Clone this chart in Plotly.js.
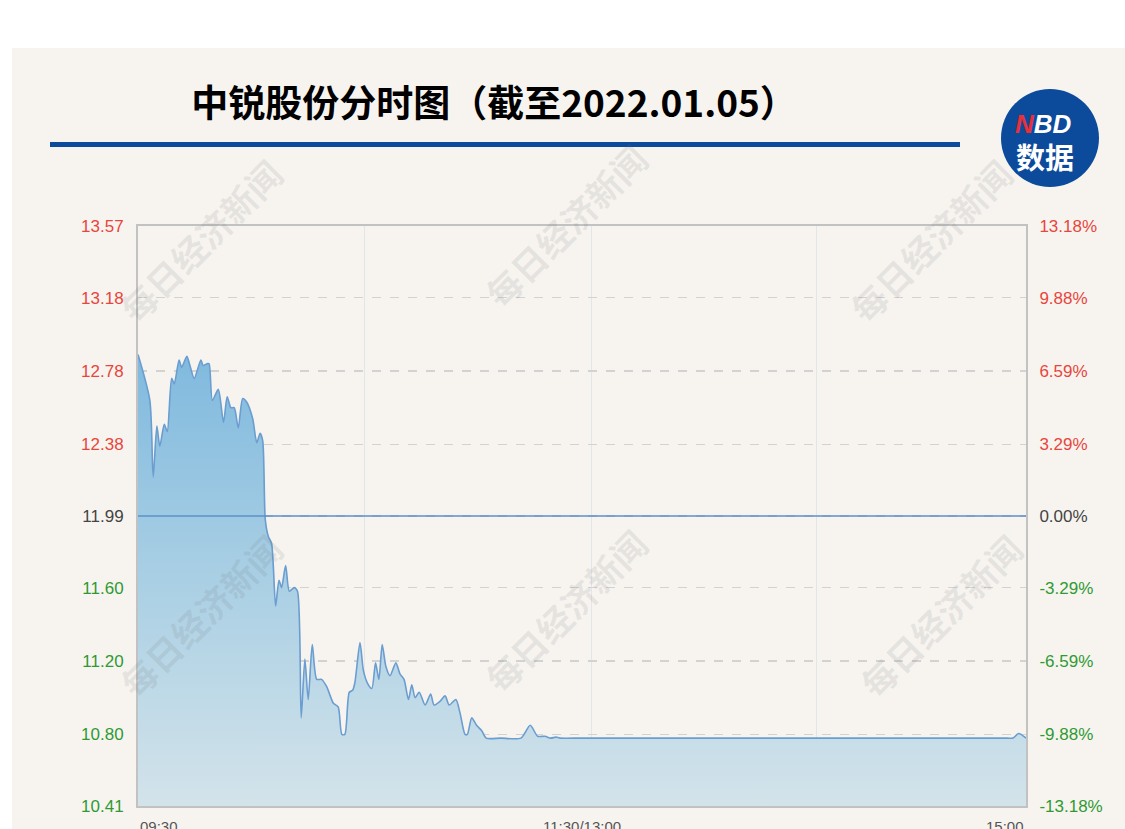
<!DOCTYPE html>
<html>
<head>
<meta charset="utf-8">
<script src="https://cdn.plot.ly/plotly-3.0.1.min.js"></script>
<style>
html,body{margin:0;padding:0;background:#ffffff;}
#panel{position:absolute;left:12px;top:48px;width:1113px;height:781px;background:#f7f4f0;}
#chart{position:absolute;left:0;top:0;width:1125px;height:829px;}
</style>
</head>
<body>
<div id="panel"></div>
<div id="chart"></div>
<script>
// ---- data (minutes after 09:30 on a 240-minute trading day) ----
const minutes = [0, 3.2, 4.1, 5.1, 5.9, 7.1, 7.9, 9.1, 9.8, 11.1, 11.8, 13.2, 13.9, 15.2, 17.0, 17.6, 18.7, 19.2, 20.1, 21.7, 23.1, 24.1, 25.1, 26.0, 27.1, 28.3, 29.4, 31.0, 32.1, 33.0, 33.7, 34.4, 35.2, 36.1, 37.2, 38.1, 38.8, 39.9, 40.9, 42.2, 43.1, 44.1, 45.1, 46.0, 47.1, 48.3, 49.6, 51.0, 52.8, 54.1, 55.1, 55.9, 57.1, 58.0, 58.6, 60.0, 60.9, 62.0, 63.2, 64.2, 65.1, 66.0, 67.0, 68.1, 69.7, 70.8, 71.9, 73.1, 74.0, 74.9, 76.0, 77.6, 79.1, 80.0, 81.6, 83.0, 84.1, 85.9, 87.0, 88.4, 89.0, 90.2, 91.5, 92.9, 94.1, 98.0, 103.5, 106.0, 108.0, 110.0, 111.5, 113.0, 114.0, 120.0, 140.0, 160.0, 180.0, 200.0, 220.0, 232.0, 235.0, 236.5, 238.0, 240.0];
const prices = [12.87, 12.62, 12.20, 12.48, 12.37, 12.49, 12.45, 12.74, 12.71, 12.84, 12.80, 12.86, 12.82, 12.74, 12.84, 12.81, 12.82, 12.82, 12.62, 12.68, 12.50, 12.64, 12.58, 12.58, 12.47, 12.63, 12.61, 12.52, 12.39, 12.44, 12.40, 11.97, 11.88, 11.84, 11.50, 11.64, 11.60, 11.72, 11.58, 11.60, 11.58, 10.89, 11.21, 10.99, 11.29, 11.10, 11.10, 11.06, 10.97, 10.95, 10.80, 10.80, 11.03, 11.04, 11.08, 11.30, 11.15, 11.08, 11.05, 11.19, 11.10, 11.29, 11.17, 11.12, 11.19, 11.13, 11.10, 10.99, 11.07, 11.00, 11.03, 10.96, 11.02, 10.96, 10.98, 11.01, 10.96, 10.99, 10.92, 10.80, 10.80, 10.89, 10.85, 10.82, 10.78, 10.78, 10.78, 10.85, 10.79, 10.79, 10.78, 10.785, 10.78, 10.78, 10.78, 10.78, 10.78, 10.78, 10.78, 10.78, 10.78, 10.78, 10.805, 10.78, 10.78];
const prevClose = 11.99;
const priceTicks = [10.41, 10.80, 11.20, 11.60, 11.99, 12.38, 12.78, 13.18, 13.57];
const priceLabels = ['10.41', '10.80', '11.20', '11.60', '11.99', '12.38', '12.78', '13.18', '13.57'];
const pctLabels = ['-13.18%', '-9.88%', '-6.59%', '-3.29%', '0.00%', '3.29%', '6.59%', '9.88%', '13.18%'];
const timeLabels = ['09:30', '11:30/13:00', '15:00'];
const titleText = '中锐股份分时图（截至2022.01.05）';
const watermark = '每日经济新闻';

// ---- styling helpers ----
const L = 138, R = 1026, T = 226, B = 806;
const px = p => (p - L) / (R - L);
const py = p => (B - p) / (B - T);
const xOfPx = p => (p - L) / (R - L) * 240;   // pixel -> x-axis units (layout only)
const gridX = [0, xOfPx(364.5), xOfPx(591), xOfPx(816), 240];
const RED = '#e8463c', GREEN = '#2f9a33', NEUTRAL = '#444444';
function colorFor(i){ return i < 4 ? GREEN : (i === 4 ? NEUTRAL : RED); }
const leftText = priceLabels.map((t, i) => '<span style="color:' + colorFor(i) + '">' + t + '</span>');
const rightText = pctLabels.map((t, i) => '<span style="color:' + colorFor(i) + '">' + t + '</span>');

const traces = [
  {
    x: minutes, y: prices, type: 'scatter', mode: 'lines',
    line: {color: '#6a9dd0', width: 1.6, shape: 'spline', smoothing: 0.7},
    fill: 'tozeroy',
    fillgradient: {type: 'vertical', start: 10.41, stop: 12.9,
      colorscale: [[0, '#d3e3ea'], [0.5, '#a9cfe4'], [1, '#7fb9de']]},
    hoverinfo: 'skip', showlegend: false
  },
  {
    x: [0], y: [prevClose], yaxis: 'y2', type: 'scatter', mode: 'none',
    hoverinfo: 'skip', showlegend: false
  }
];

const wmPos = [[200, 240], [565, 225], [930, 240], [200, 615], [565, 610], [940, 615]];
const annotations = wmPos.map(p => ({
  xref: 'paper', yref: 'paper', x: px(p[0]), y: py(p[1]), text: watermark,
  showarrow: false, textangle: -45, xanchor: 'center', yanchor: 'middle',
  font: {family: 'Noto Sans CJK SC', size: 35, color: 'rgba(110,110,110,0.13)', weight: 'bold'}
}));
const xLabFont = {family: 'Liberation Sans', size: 15, color: '#555'};
annotations.push(
  {xref: 'x', yref: 'paper', x: gridX[0], y: 0, yshift: -10, text: timeLabels[0], showarrow: false,
   xanchor: 'left', yanchor: 'top', font: xLabFont},
  {xref: 'x', yref: 'paper', x: gridX[2], y: 0, yshift: -10, xshift: -9, text: timeLabels[1], showarrow: false,
   xanchor: 'center', yanchor: 'top', font: xLabFont},
  {xref: 'x', yref: 'paper', x: gridX[4], y: 0, yshift: -10, text: timeLabels[2], showarrow: false,
   xanchor: 'right', yanchor: 'top', font: xLabFont},
  {xref: 'paper', yref: 'paper', x: px(1043), y: py(124), text: '<b><i><span style="color:#e8303a">N</span>BD</i></b>',
   showarrow: false, xanchor: 'center', yanchor: 'middle', font: {family: 'Liberation Sans', size: 26, color: '#ffffff'}},
  {xref: 'paper', yref: 'paper', x: px(1045), y: py(156), text: '<b>数据</b>',
   showarrow: false, xanchor: 'center', yanchor: 'middle', font: {family: 'Noto Sans CJK SC', size: 29, color: '#ffffff'}}
);

const shapes = [
  {type: 'line', xref: 'paper', yref: 'y', x0: 0, x1: 1, y0: prevClose, y1: prevClose,
   line: {color: '#5b8fcb', width: 1.5}, layer: 'above'},
  {type: 'rect', xref: 'paper', yref: 'paper', x0: px(50), x1: px(960), y0: py(142), y1: py(147),
   fillcolor: '#0c4a9b', line: {width: 0}},
  {type: 'circle', xref: 'paper', yref: 'paper', x0: px(1001), x1: px(1099), y0: py(89), y1: py(187),
   fillcolor: '#0c4a9b', line: {width: 0}}
];

const axisFont = {family: 'Liberation Sans', size: 17};
const layout = {
  width: 1125, height: 829,
  margin: {l: L, r: 1125 - R, t: T, b: 829 - B, pad: 0},
  paper_bgcolor: 'rgba(0,0,0,0)', plot_bgcolor: 'rgba(0,0,0,0)',
  title: {text: '<b>' + titleText + '</b>', x: 494 / 1125, xref: 'container', xanchor: 'center',
    y: 1 - 104 / 829, yref: 'container', yanchor: 'middle',
    font: {family: 'Noto Sans CJK SC', size: 37, color: '#000000'}},
  xaxis: {range: [0, 240], tickvals: gridX, ticktext: ['', '', '', '', ''], showgrid: true,
    gridcolor: '#e3e6e8', gridwidth: 1, zeroline: false, showline: true, mirror: true,
    linecolor: '#c2c2c2', linewidth: 2, ticks: '', fixedrange: true},
  yaxis: {range: [10.41, 13.57], tickvals: priceTicks, ticktext: leftText, showgrid: true,
    gridcolor: '#d2d2d2', griddash: 'dash', gridwidth: 1.5, zeroline: false, showline: true, mirror: true,
    linecolor: '#c2c2c2', linewidth: 2, ticks: 'outside', ticklen: 9, tickcolor: 'rgba(0,0,0,0)',
    tickfont: axisFont, fixedrange: true},
  yaxis2: {range: [10.41, 13.57], tickvals: priceTicks, ticktext: rightText, overlaying: 'y', side: 'right',
    showgrid: false, zeroline: false, showline: false, ticks: 'outside', ticklen: 9, tickcolor: 'rgba(0,0,0,0)',
    tickfont: axisFont, fixedrange: true},
  shapes: shapes,
  annotations: annotations,
  showlegend: false, hovermode: false
};

Plotly.newPlot('chart', traces, layout, {displayModeBar: false, staticPlot: true});
</script>
</body>
</html>
